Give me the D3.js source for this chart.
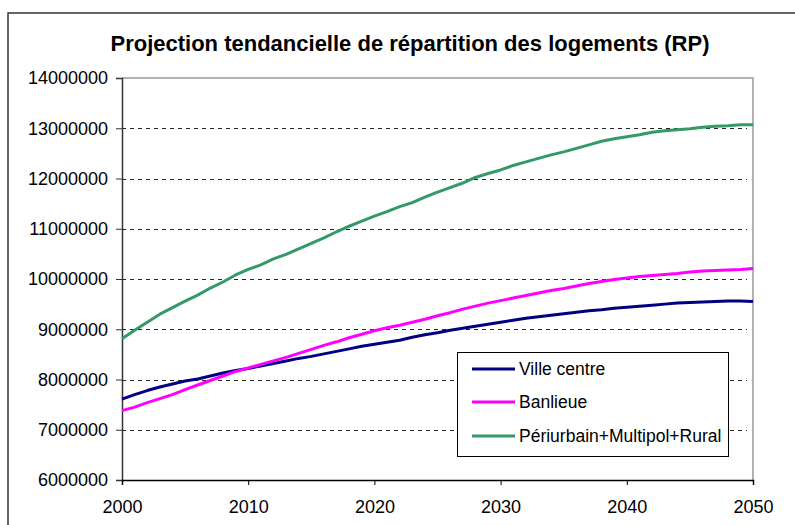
<!DOCTYPE html>
<html>
<head>
<meta charset="utf-8">
<script src="https://cdn.jsdelivr.net/npm/d3@7"></script>
<style>
  html, body { margin: 0; padding: 0; background: #fff; }
  svg { display: block; font-family: "Liberation Sans", Arial, sans-serif; }
</style>
</head>
<body>
<svg id="chart" width="795" height="525"></svg>
<script>
// Années de projection
const years = d3.range(2000, 2051);

// Nombre de logements (résidences principales), par zone
const villeCentre = [
  7610000, 7700000, 7780000, 7850000, 7910000, 7970000, 8010000, 8070000, 8130000, 8180000,
  8220000, 8270000, 8320000, 8370000, 8420000, 8460000, 8510000, 8560000, 8610000, 8660000,
  8700000, 8740000, 8780000, 8840000, 8890000, 8930000, 8980000, 9020000, 9060000, 9100000,
  9140000, 9180000, 9220000, 9250000, 9280000, 9310000, 9340000, 9370000, 9390000, 9420000,
  9440000, 9460000, 9480000, 9500000, 9520000, 9530000, 9540000, 9550000, 9560000, 9560000,
  9550000
];
const banlieue = [
  7380000, 7450000, 7540000, 7620000, 7700000, 7800000, 7890000, 7980000, 8070000, 8160000,
  8230000, 8300000, 8370000, 8440000, 8520000, 8600000, 8680000, 8750000, 8830000, 8900000,
  8970000, 9030000, 9080000, 9140000, 9200000, 9270000, 9330000, 9400000, 9460000, 9520000,
  9570000, 9620000, 9670000, 9720000, 9770000, 9810000, 9860000, 9910000, 9950000, 9990000,
  10020000, 10050000, 10070000, 10090000, 10110000, 10140000, 10160000, 10170000, 10180000, 10190000,
  10210000
];
const periurbain = [
  8810000, 8980000, 9140000, 9300000, 9430000, 9560000, 9680000, 9820000, 9940000, 10080000,
  10190000, 10280000, 10400000, 10490000, 10600000, 10710000, 10820000, 10940000, 11050000, 11150000,
  11250000, 11340000, 11440000, 11520000, 11630000, 11730000, 11820000, 11910000, 12020000, 12100000,
  12170000, 12260000, 12330000, 12400000, 12470000, 12530000, 12600000, 12670000, 12740000, 12790000,
  12830000, 12870000, 12920000, 12950000, 12970000, 12990000, 13020000, 13040000, 13050000, 13070000,
  13070000
];

const seriesNames = ["Ville centre", "Banlieue", "Périurbain+Multipol+Rural"];
const seriesValues = [villeCentre, banlieue, periurbain];
const seriesColors = ["#000080", "#ff00ff", "#339966"];

const yTicks = d3.range(6000000, 14000001, 1000000);
const xTicks = [2000, 2010, 2020, 2030, 2040, 2050];
const title = "Projection tendancielle de répartition des logements (RP)";

const svg = d3.select("#chart");

// Cadre extérieur du graphique
svg.append("rect")
  .attr("x", 8).attr("y", 13)
  .attr("width", 820).attr("height", 540)
  .attr("fill", "#fff")
  .attr("stroke", "#333").attr("stroke-width", 1.5);

const plot = { left: 122, right: 753, top: 78, bottom: 480 };

const x = d3.scaleLinear().domain([2000, 2050]).range([plot.left, plot.right]);
const y = d3.scaleLinear().domain([6000000, 14000000]).range([plot.bottom, plot.top]);

// Titre
svg.append("text")
  .attr("x", 410).attr("y", 51)
  .attr("text-anchor", "middle")
  .attr("font-size", 22).attr("font-weight", "bold")
  .attr("fill", "#000")
  .text(title);

// Quadrillage horizontal en tirets
svg.append("g")
  .selectAll("line")
  .data(yTicks.filter(v => v > 6000000 && v < 14000000))
  .join("line")
  .attr("x1", plot.left).attr("x2", plot.right - 6)
  .attr("y1", d => Math.round(y(d)) + 0.5).attr("y2", d => Math.round(y(d)) + 0.5)
  .attr("stroke", "#222").attr("stroke-width", 1)
  .attr("stroke-dasharray", "4,4");

// Bords haut et droit de la zone de tracé
svg.append("path")
  .attr("d", `M${plot.left},${plot.top}H${plot.right}V${plot.bottom}`)
  .attr("fill", "none").attr("stroke", "#999").attr("stroke-width", 1.5);

// Axe des ordonnées
const yAxis = svg.append("g")
  .attr("transform", `translate(${plot.left},0)`)
  .call(d3.axisLeft(y).tickValues(yTicks).tickFormat(d3.format("d")).tickSizeOuter(0).tickSize(6).tickPadding(8));
yAxis.select(".domain").attr("stroke", "#333").attr("stroke-width", 1.5);
yAxis.selectAll(".tick line").attr("stroke", "#333");
yAxis.selectAll("text")
  .attr("font-size", 18).attr("font-family", "'Liberation Sans', Arial, sans-serif")
  .attr("fill", "#000");

// Axe des abscisses
const xAxis = svg.append("g")
  .attr("transform", `translate(0,${plot.bottom})`)
  .call(d3.axisBottom(x).tickValues(xTicks).tickFormat(d3.format("d")).tickSizeOuter(0).tickSize(5).tickPadding(15));
xAxis.select(".domain").attr("stroke", "#000").attr("stroke-width", 1.5);
xAxis.selectAll(".tick line").attr("stroke", "#000");
xAxis.selectAll("text")
  .attr("font-size", 18).attr("font-family", "'Liberation Sans', Arial, sans-serif")
  .attr("fill", "#000");

// Courbes
const line = d3.line()
  .x((d, i) => x(years[i]))
  .y(d => y(d));

svg.append("g")
  .selectAll("path")
  .data(seriesValues)
  .join("path")
  .attr("d", line)
  .attr("fill", "none")
  .attr("stroke", (d, i) => seriesColors[i])
  .attr("stroke-width", 3)
  .attr("stroke-linejoin", "round");

// Légende
const legend = svg.append("g");
legend.append("rect")
  .attr("x", 457.5).attr("y", 352.5)
  .attr("width", 271).attr("height", 104)
  .attr("fill", "#fff").attr("stroke", "#000").attr("stroke-width", 1);

const rows = [369, 402, 436];
const items = legend.selectAll("g.item")
  .data(seriesNames)
  .join("g")
  .attr("class", "item")
  .attr("transform", (d, i) => `translate(0,${rows[i]})`);
items.append("line")
  .attr("x1", 472).attr("x2", 515)
  .attr("y1", 0).attr("y2", 0)
  .attr("stroke", (d, i) => seriesColors[i])
  .attr("stroke-width", 3);
items.append("text")
  .attr("x", 519).attr("y", 0)
  .attr("dy", "0.35em")
  .attr("font-size", 17.5)
  .attr("fill", "#000")
  .text(d => d);
</script>
</body>
</html>
